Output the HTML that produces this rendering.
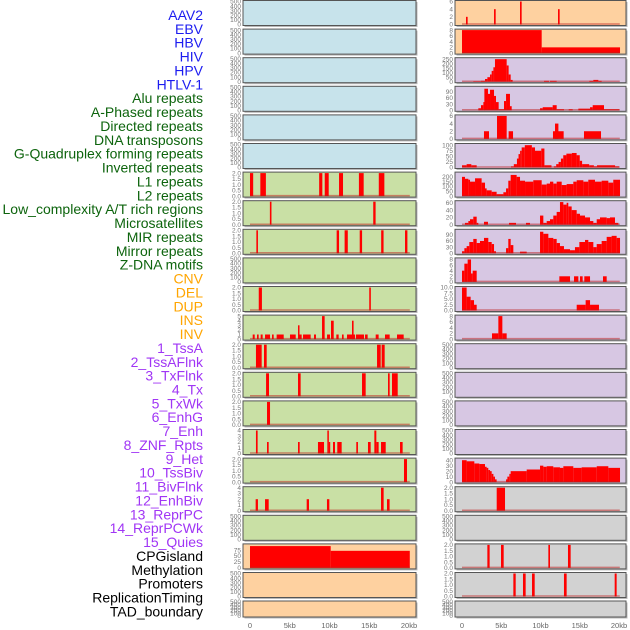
<!DOCTYPE html>
<html><head><meta charset="utf-8"><style>
html,body{margin:0;padding:0;background:#fff;}
svg{display:block;font-family:"Liberation Sans",sans-serif;}
</style></head><body>
<svg id="chart" width="630" height="630" viewBox="0 0 630 630" xmlns="http://www.w3.org/2000/svg">
<g id="labels"></g>
<g id="panels"></g>
<g id="xaxes"></g>
</svg>
<script>
const NS="http://www.w3.org/2000/svg";
// ---- label data ----
const trackLabels=["AAV2","EBV","HBV","HIV","HPV","HTLV-1","Alu repeats","A-Phased repeats","Directed repeats","DNA transposons","G-Quadruplex forming repeats","Inverted repeats","L1 repeats","L2 repeats","Low_complexity A/T rich regions","Microsatellites","MIR repeats","Mirror repeats","Z-DNA motifs","CNV","DEL","DUP","INS","INV","1_TssA","2_TssAFlnk","3_TxFlnk","4_Tx","5_TxWk","6_EnhG","7_Enh","8_ZNF_Rpts","9_Het","10_TssBiv","11_BivFlnk","12_EnhBiv","13_ReprPC","14_ReprPCWk","15_Quies","CPGisland","Methylation","Promoters","ReplicationTiming","TAD_boundary"];
const labelGroups=["virus","virus","virus","virus","virus","virus","repeat","repeat","repeat","repeat","repeat","repeat","repeat","repeat","repeat","repeat","repeat","repeat","repeat","sv","sv","sv","sv","sv","chrom","chrom","chrom","chrom","chrom","chrom","chrom","chrom","chrom","chrom","chrom","chrom","chrom","chrom","chrom","other","other","other","other","other"];
const xTickValues=[0,5,10,15,20];
const xTickLabels=["0","5kb","10kb","15kb","20kb"];
// ---- tick sets ----
const ticksEmpty=[0,100,200,300,400,500];
const ticksTwo=[0,0.5,1,1.5,2];
const ticksTwoLbl=["0.0","0.5","1.0","1.5","2.0"];
// ---- left column segment data [startKb,endKb,value] ----
const leftL1=[[0,0.4,2],[1.3,2.0,2],[8.7,9.1,2],[9.4,9.9,2],[11.2,11.7,2],[13.7,14.3,2],[16.2,16.9,2]];
const leftL2=[[2.5,2.7,2],[15.5,15.8,2]];
const leftLowComplex=[[0.8,1.0,2],[10.9,11.2,2],[11.9,12.3,2],[13.8,14.1,2],[16.5,16.8,2],[19.5,19.8,2]];
const leftMIR=[[1.1,1.5,2],[15.0,15.2,2]];
const leftMirror=[[0.34,0.59,1],[0.88,1.09,1],[1.34,1.59,1],[1.89,2.52,1],[2.77,2.98,1],[3.35,4.24,1],[5.03,5.75,1],[6.04,6.17,3],[6.17,6.5,1],[6.67,7.63,1],[8.05,8.3,1],[9.06,9.39,5],[9.69,10.06,1],[10.19,10.53,4],[10.86,11.15,1],[11.57,11.78,1],[12.2,13.21,1],[12.83,13.03,4],[13.33,14.34,1],[14.47,14.8,1],[15.81,16.18,1],[16.98,17.57,1],[18.49,19.33,1]];
const leftTssA=[[0.75,1.47,2],[1.76,2.1,2],[15.98,16.44,2],[16.56,16.94,2]];
const leftTssAFlnk=[[2.02,2.39,2],[6.04,6.37,2],[14.09,14.55,2],[17.36,17.57,2],[17.86,18.58,2]];
const leftTxFlnk=[[2.14,2.52,2]];
const leftTx=[[0.75,0.96,4],[2.14,2.35,2],[6.04,6.25,2],[8.55,9.31,2],[9.73,9.9,4],[9.9,10.06,2],[10.44,10.69,2],[10.98,11.53,2],[13.37,13.58,2],[14.84,15.18,2],[15.64,15.89,4],[15.89,16.18,2],[16.48,17.07,2],[18.87,19.2,2]];
const leftTxWk=[[19.37,19.75,2]];
const leftEnhG=[[0.71,1.0,2],[1.89,2.35,2],[7.13,7.42,2],[9.68,9.98,2],[16.48,16.81,4],[17.23,17.56,2]];
const leftCPG=[[0,10.15,92],[10.15,20.1,72]];
// ---- right column ----
const rightAAV2=[[0.51,0.72,2],[4.08,4.29,4],[7.39,7.6,6],[12.23,12.44,4]];
const rightEBV=[[0,10.15,8],[10.15,20.13,2]];
const rightHBV=[[1.44,2.42,5],[2.42,2.93,10],[2.93,3.23,30],[3.23,3.57,50],[3.57,3.78,80],[3.78,4.0,120],[4.0,4.2,160],[4.2,5.69,250],[5.69,5.94,180],[5.94,6.2,80],[6.2,6.45,20],[10.45,11.08,10],[11.21,12.06,10],[16.22,16.73,10],[16.73,17.37,20],[17.37,17.79,10]];
const rightHIV=[[2.08,2.42,10],[2.42,2.72,25],[2.72,2.85,40],[2.85,3.31,105],[3.31,3.57,80],[3.57,4.08,100],[4.08,4.33,70],[4.33,4.67,40],[4.67,5.35,5],[5.35,5.61,45],[5.61,6.11,80],[6.11,6.33,20],[9.94,10.28,10],[10.28,11.55,15],[11.55,12.06,25],[12.06,12.99,5],[13.59,14.1,5],[14.82,16.31,8],[16.31,16.65,15],[16.65,18.09,25],[18.09,20.04,5]];
const rightDirected=[[2.8,3.44,2],[4.46,5.69,6],[5.94,6.5,2],[11.59,12.95,2],[11.85,12.28,4],[15.54,17.71,2]];
const rightGQuad=[[0,0.59,10],[0.59,1.19,15],[1.19,1.87,10],[6.24,6.6,5],[6.6,7.0,15],[7.0,7.2,40],[7.2,7.4,60],[7.4,7.6,75],[7.6,8.0,90],[8.0,8.9,100],[8.9,9.3,90],[9.3,10.1,75],[10.1,10.5,85],[10.5,11.4,10],[11.7,12.0,5],[12.0,12.3,15],[12.3,12.6,25],[12.6,12.9,40],[12.9,13.3,55],[13.3,14.0,62],[14.0,14.6,65],[14.6,15.0,55],[15.0,15.3,30],[15.3,16.2,15],[16.2,16.8,10],[16.8,17.2,5],[17.2,19.5,10],[19.5,20.0,5]];
const rightL1=[[0,0.38,200],[0.38,0.81,180],[0.81,1.02,170],[1.02,1.66,150],[1.66,2.5,185],[2.5,2.93,140],[2.93,3.14,80],[3.14,3.78,60],[3.78,4.41,45],[4.41,5.27,20],[5.27,5.61,40],[5.61,5.9,80],[5.9,6.2,160],[6.2,6.96,220],[6.96,7.39,200],[7.39,8.03,160],[8.03,9.08,150],[9.08,10.15,165],[10.15,10.79,120],[10.79,11.21,130],[11.21,11.63,150],[11.63,12.06,130],[12.06,12.7,150],[12.7,13.33,115],[13.33,14.18,125],[14.18,14.61,150],[14.61,15.46,165],[15.46,16.09,150],[16.09,16.94,170],[16.94,17.79,150],[17.79,18.64,160],[18.64,19.27,140],[19.27,20.13,170]];
const rightLowComplex=[[0.38,0.81,5],[0.81,1.02,10],[1.02,1.44,15],[1.44,1.87,22],[1.87,2.08,5],[2.8,3.31,8],[5.99,6.88,5],[8.15,8.66,5],[9.94,10.36,25],[10.36,10.79,5],[10.79,11.21,10],[11.21,11.63,15],[11.63,12.06,25],[12.06,12.48,35],[12.48,12.91,62],[12.91,13.33,55],[13.33,13.54,60],[13.54,13.97,50],[13.97,14.61,40],[14.61,15.03,30],[15.03,15.67,25],[15.67,16.31,20],[16.31,16.73,10],[16.73,17.16,5],[17.16,17.58,15],[17.58,18.43,20],[18.43,18.85,18],[18.85,19.49,20],[19.49,19.92,5]];
const rightMIR=[[0,0.3,10],[0.3,0.59,25],[0.59,0.93,35],[0.93,1.44,55],[1.44,1.87,70],[1.87,2.29,50],[2.29,2.8,60],[2.8,3.35,75],[3.35,3.78,55],[3.78,4.08,45],[4.08,4.33,10],[5.61,5.9,25],[5.9,6.2,70],[6.2,6.54,40],[7.39,8.24,8],[9.94,10.36,105],[10.36,11.0,95],[11.0,11.63,75],[11.63,12.06,70],[12.06,12.48,50],[12.48,12.99,35],[12.99,13.76,20],[13.76,14.39,15],[14.39,14.95,30],[14.95,15.67,55],[15.67,16.09,65],[16.09,16.73,55],[16.73,17.16,30],[17.16,17.79,45],[17.79,18.43,60],[18.43,19.06,80],[19.06,19.7,85],[19.7,20.13,75]];
const rightZDNA=[[0,0.3,4],[0.3,0.72,6.5],[0.72,1.15,8],[1.15,1.36,3],[1.36,1.87,4],[12.4,13.76,2],[14.27,14.82,2],[15.03,15.37,2],[15.58,16.31,2],[17.96,18.43,2]];
const rightCNV=[[0,0.59,10],[0.59,1.1,6],[1.1,1.53,4.5],[1.53,1.87,2.5],[14.61,15.75,2.5],[15.75,16.31,4.5],[16.31,17.45,2.5]];
const rightDEL=[[3.82,4.63,2],[4.63,5.14,8],[5.14,5.69,2]];
const rightHet=[[0,0.59,40],[0.59,1.57,38],[1.57,2.21,34],[2.21,2.93,33],[2.93,3.14,28],[3.14,3.35,26],[3.35,3.57,22],[3.57,3.78,20],[3.78,4.0,15],[4.0,4.2,10],[4.2,4.41,5],[5.61,5.78,5],[5.78,6.03,10],[6.03,6.2,15],[6.2,8.24,20],[8.24,9.94,23],[9.94,10.36,30],[10.36,10.79,28],[10.79,11.63,29],[11.63,12.48,27],[12.48,12.91,26],[12.91,14.18,29],[14.18,15.24,26],[15.24,17.16,27],[17.16,18.64,29],[18.64,20.13,26]];
const rightBivFlnk=[[4.42,5.48,2]];
const rightCPG=[[3.23,3.52,2],[4.97,5.31,2],[11.0,11.21,2],[13.5,13.84,2]];
const rightMeth=[[6.54,6.84,2],[7.77,8.11,2],[8.92,9.26,2],[12.99,13.33,2],[19.45,19.7,2]];

// ---- panel specs: side, row, background, data, domain max, tick values, tick labels ----
const E=null;
const panelSpecs=[
["L",0,"blue",E],["L",1,"blue",E],["L",2,"blue",E],["L",3,"blue",E],["L",4,"blue",E],["L",5,"blue",E],
["L",6,"green",leftL1,2,ticksTwo,ticksTwoLbl],["L",7,"green",leftL2,2,ticksTwo,ticksTwoLbl],["L",8,"green",leftLowComplex,2,ticksTwo,ticksTwoLbl],["L",9,"green",E],
["L",10,"green",leftMIR,2,ticksTwo,ticksTwoLbl],["L",11,"green",leftMirror,5,[0,1,2,3,4,5],["0","1","2","3","4","5"]],
["L",12,"green",leftTssA,2,ticksTwo,ticksTwoLbl],["L",13,"green",leftTssAFlnk,2,ticksTwo,ticksTwoLbl],["L",14,"green",leftTxFlnk,2,ticksTwo,ticksTwoLbl],
["L",15,"green",leftTx,4,[0,1,2,3,4],["0","1","2","3","4"]],["L",16,"green",leftTxWk,2,ticksTwo,ticksTwoLbl],["L",17,"green",leftEnhG,4,[0,1,2,3,4],["0","1","2","3","4"]],
["L",18,"green",E],["L",19,"orange",leftCPG,97,[0,25,50,75],["0","25","50","75"]],["L",20,"orange",E],["L",21,"orange",E],
["R",0,"orange",rightAAV2,6,[0,2,4,6],["0","2","4","6"]],["R",1,"orange",rightEBV,8,[0,2,4,6,8],["0","2","4","6","8"]],
["R",2,"lav",rightHBV,255,[0,50,100,150,200,250],["0","50","100","150","200","250"]],["R",3,"lav",rightHIV,112,[0,30,60,90],["0","30","60","90"]],
["R",4,"lav",rightDirected,6,[0,2,4,6],["0","2","4","6"]],["R",5,"lav",rightGQuad,103,[0,25,50,75,100],["0","25","50","75","100"]],
["R",6,"lav",rightL1,239,[0,50,100,150,200],["0","50","100","150","200"]],["R",7,"lav",rightLowComplex,63,[0,20,40,60],["0","20","40","60"]],
["R",8,"lav",rightMIR,112,[0,30,60,90],["0","30","60","90"]],["R",9,"lav",rightZDNA,8.2,[0,2,4,6,8],["0","2","4","6","8"]],
["R",10,"lav",rightCNV,10,[0,2.5,5,7.5,10],["0.0","2.5","5.0","7.5","10.0"]],["R",11,"lav",rightDEL,8,[0,2,4,6,8],["0","2","4","6","8"]],
["R",12,"lav",E],["R",13,"lav",E],["R",14,"lav",E],["R",15,"lav",E],
["R",16,"lav",rightHet,42,[0,10,20,30,40],["0","10","20","30","40"]],
["R",17,"gray",rightBivFlnk,2,ticksTwo,ticksTwoLbl],["R",18,"gray",E],
["R",19,"gray",rightCPG,2,ticksTwo,ticksTwoLbl],["R",20,"gray",rightMeth,2,ticksTwo,ticksTwoLbl],["R",21,"gray",E]
];
const bgColors={blue:"#c7e3eb",green:"#c9e0a5",orange:"#fed1a0",lav:"#d7c7e3",gray:"#d2d2d2"};
const groupColors={virus:"#1c1cf0",repeat:"#0d640d",sv:"#ffa500",chrom:"#a035f5",other:"#000000"};

function mk(tag,attrs,parent){const e=document.createElementNS(NS,tag);for(const k in attrs)e.setAttribute(k,attrs[k]);parent.appendChild(e);return e;}

// labels
const gL=document.getElementById("labels");
trackLabels.forEach((t,i)=>{
  const tx=mk("text",{x:203,y:(20+i*13.87).toFixed(2),"text-anchor":"end","font-size":"14",fill:groupColors[labelGroups[i]]},gL);
  
  
  tx.textContent=t;
});

// scales
const sides={L:{x0:243,x1:416,px0:250,px20:409},R:{x0:455,x1:626,px0:462,px20:619}};
function xScale(side,kb){const s=sides[side];return s.px0+(s.px20-s.px0)*kb/20;}
function rowTop(r){return r<21?0.5+r*28.6:601;}
function rowH(r){return r<21?25:16;}

const gP=document.getElementById("panels");
panelSpecs.forEach(sp=>{
  const [side,row,bg,data,dmax,tv,tl]=sp;
  const s=sides[side], top=rowTop(row), h=rowH(row);
  const g=mk("g",{},gP);
  
  
  mk("rect",{x:s.x0+1.5,y:top+1.5,width:s.x1-s.x0,height:h,fill:"#b8b8b8"},g);
  mk("rect",{x:s.x0,y:top,width:s.x1-s.x0,height:h,fill:bgColors[bg],stroke:"#555","stroke-width":1},g);
  const yTop=top+1, y0=top+h-1;
  const max=data?dmax:500;
  const ys=v=>y0-(y0-yTop)*v/max;
  const tvals=data?tv:ticksEmpty;
  const tlabs=data?tl:ticksEmpty.map(String);
  tvals.forEach((v,i)=>{
    const t=mk("text",{x:s.x0-2,y:(ys(v)+2.2).toFixed(2),"text-anchor":"end","font-size":"6.5",fill:"#777"},g);
    
    
    t.textContent=tlabs[i];
  });
  if(data){
    data.forEach(d=>{
      const x1=xScale(side,d[0]),x2=xScale(side,d[1]);
      const r=mk("rect",{x:x1.toFixed(2),y:ys(d[2]).toFixed(2),width:Math.max(1.5,x2-x1).toFixed(2),height:(y0-ys(d[2])).toFixed(2),fill:"#ff0000"},g);
      
      
    });
    const bl=mk("line",{x1:xScale(side,0),x2:xScale(side,20.1),y1:y0-0.5,y2:y0-0.5,stroke:"rgba(190,30,30,0.5)","stroke-width":1.5},g);
    
    
  }
});

// x axes
const gX=document.getElementById("xaxes");
["L","R"].forEach(side=>{
  xTickValues.forEach((v,i)=>{
    const t=mk("text",{x:xScale(side,v),y:628,"text-anchor":"middle","font-size":"7.5",fill:"#666"},gX);
    
    
    t.textContent=xTickLabels[i];
  });
});
</script>
</body></html>
